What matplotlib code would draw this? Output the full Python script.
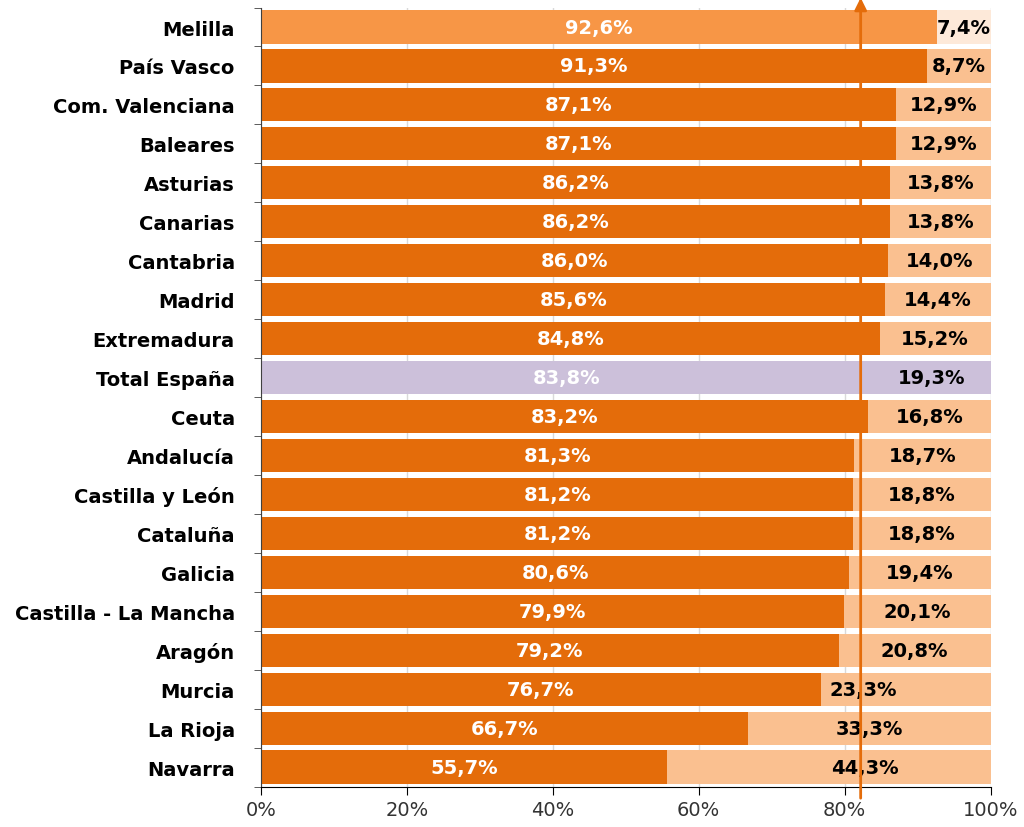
"""
porcentaje por comunidad autonoma, barras apiladas horizontales
"""
import numpy as np
import matplotlib.pyplot as plt

regions = ["Melilla", "País Vasco", "Com. Valenciana", "Baleares", "Asturias",
           "Canarias", "Cantabria", "Madrid", "Extremadura", "Total España",
           "Ceuta", "Andalucía", "Castilla y León", "Cataluña", "Galicia",
           "Castilla - La Mancha", "Aragón", "Murcia", "La Rioja", "Navarra"]
part_a = [92.6, 91.3, 87.1, 87.1, 86.2, 86.2, 86.0, 85.6, 84.8, 83.8,
          83.2, 81.3, 81.2, 81.2, 80.6, 79.9, 79.2, 76.7, 66.7, 55.7]
part_b = [7.4, 8.7, 12.9, 12.9, 13.8, 13.8, 14.0, 14.4, 15.2, 19.3,
          16.8, 18.7, 18.8, 18.8, 19.4, 20.1, 20.8, 23.3, 33.3, 44.3]
total_line = 82.2   # flecha vertical (media)

DARK = "#E46C0A"
LIGHT = "#FAC090"

plt.rcParams['font.family'] = ['DejaVu Sans']

fig = plt.figure(figsize=(10.24, 8.28), dpi=100)
ax = fig.add_axes([0.2549, 0.0489, 0.7124, 0.9408])

n = len(regions)
y = np.arange(n)

col_a = []
col_b = []
for r in regions:
    if r == "Melilla":
        col_a.append("#F79646")
        col_b.append("#FDE9D9")
    elif r == "Total España":
        col_a.append("#CCC0DA")
        col_b.append("#CCC0DA")
    else:
        col_a.append(DARK)
        col_b.append(LIGHT)

a = np.array(part_a)
b = np.array(part_b)
ax.barh(y, a, height=0.85, color=col_a, zorder=2)
ax.barh(y, b, left=a, height=0.85, color=col_b, zorder=2)

# etiquetas
label_pos_b = {"Murcia": 82.6, "Navarra": 82.8}
for i in range(n):
    ax.text(a[i] / 2, y[i], ("%.1f%%" % a[i]).replace(".", ","),
            ha="center", va="center", color="white", fontsize=14,
            fontweight="bold", zorder=4)
    xb = label_pos_b.get(regions[i], (a[i] + min(a[i] + b[i], 100)) / 2)
    ax.text(xb, y[i], ("%.1f%%" % b[i]).replace(".", ","),
            ha="center", va="center", color="black", fontsize=14,
            fontweight="bold", zorder=4)

ax.set_xlim(0, 100)
ax.set_ylim(n - 0.5, -0.5)

ax.set_yticks(y)
ax.set_yticklabels(regions, fontsize=14, fontweight="bold")
ax.set_yticks(np.arange(n + 1) - 0.5, minor=True)
ax.tick_params(axis="y", which="major", length=0, pad=19)
ax.tick_params(axis="y", which="minor", length=5, color="#404040")

ax.set_xticks(np.arange(0, 101, 20))
ax.set_xticklabels(["%d%%" % v for v in range(0, 101, 20)], fontsize=14,
                   color="#333333")
ax.tick_params(axis="x", length=6, color="black")
ax.xaxis.grid(True, color="#D9D9D9", linewidth=1, zorder=0)
ax.set_axisbelow(True)

for s in ["top", "right"]:
    ax.spines[s].set_visible(False)
ax.spines["left"].set_color("#404040")
ax.spines["bottom"].set_color("black")

# flecha vertical
ax.annotate("", xy=(total_line, -0.75), xytext=(total_line, n - 0.2),
            arrowprops=dict(arrowstyle="-|>", color=DARK, lw=2,
                            mutation_scale=18, shrinkA=0, shrinkB=0),
            annotation_clip=False, zorder=5)

plt.savefig("out.png", dpi=100)
